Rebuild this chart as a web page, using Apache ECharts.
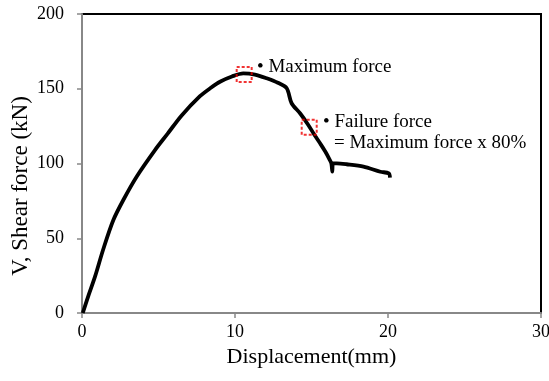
<!DOCTYPE html>
<html><head><meta charset="utf-8">
<script src="https://cdn.jsdelivr.net/npm/echarts@6/dist/echarts.min.js"></script>
<style>html,body{margin:0;padding:0;background:#fff}#c{width:549px;height:381px}</style>
</head><body><div id="c"></div>
<script>
const displacement = [0.05,0.4,0.85,1.4,2.05,2.7,3.57,4.77,5.6,6.5,7.71,8.4,9.02,9.8,10.54,11.3,12.07,12.8,13.38,13.7,14.25,14.79,15.2,15.56,15.9,16.2,16.3,16.36,16.4,16.65,17.3,18.4,19.5,20.05,20.13];
const shearForce   = [0,11,24.3,43,62.2,75.6,91.2,109,120,132,145,150.5,154.7,158.2,160.3,159.5,157,154,150.3,140.3,133.6,125.8,119,113.5,108,102.3,100,94.5,100.1,100.1,99.5,97.9,94.5,93.4,90.5];
const keyPoints = [[10.6,159.5],[14.85,124.2]];
const xTicks = [0,10,20,30];
const yTicks = [0,50,100,150,200];

const font = 'Liberation Serif';
const chart = echarts.init(document.getElementById('c'));
chart.setOption({
  animation:false,
  grid:{left:82,right:8,top:14,bottom:68,show:true,borderColor:'#000',borderWidth:2,outerBoundsMode:'none',containLabel:false},
  xAxis:{type:'value',min:0,max:30,interval:10,
    name:'Displacement(mm)',nameLocation:'middle',nameGap:33,
    nameTextStyle:{fontFamily:font,fontSize:22,color:'#000'},
    axisLine:{lineStyle:{color:'#888',width:2}},
    axisTick:{show:true,length:5,lineStyle:{color:'#888',width:1.5}},
    axisLabel:{fontFamily:font,fontSize:18,color:'#000',margin:10},
    splitLine:{show:false}},
  yAxis:{type:'value',min:0,max:200,interval:50,
    name:'',
    axisLine:{show:true,lineStyle:{color:'#888',width:2}},
    axisTick:{show:true,length:5,lineStyle:{color:'#888',width:1.5}},
    axisLabel:{fontFamily:font,fontSize:18,color:'#000',margin:18},
    splitLine:{show:false}},
  series:[
    {type:'line',data:displacement.map((d,i)=>[d,shearForce[i]]),showSymbol:false,smooth:0.3,
     lineStyle:{color:'#000',width:3.8}},
    {type:'scatter',data:keyPoints,symbol:'rect',symbolSize:15,
     itemStyle:{color:'rgba(0,0,0,0)',borderColor:'#e00',borderWidth:2,borderType:[3,2]},z:5}
  ],
  graphic:[
    {type:'text',x:21,y:186,rotation:Math.PI/2,style:{text:'V, Shear force (kN)',font:'23px "Liberation Serif"',fill:'#000',align:'center',verticalAlign:'middle'}},
    {type:'text',left:257,top:58,style:{text:'• Maximum force',font:'19px "Liberation Serif"',fill:'#000'}},
    {type:'text',left:323,top:113,style:{text:'• Failure force',font:'19px "Liberation Serif"',fill:'#000'}},
    {type:'text',left:334,top:134,style:{text:'= Maximum force x 80%',font:'19px "Liberation Serif"',fill:'#000'}}
  ]
});
</script></body></html>
